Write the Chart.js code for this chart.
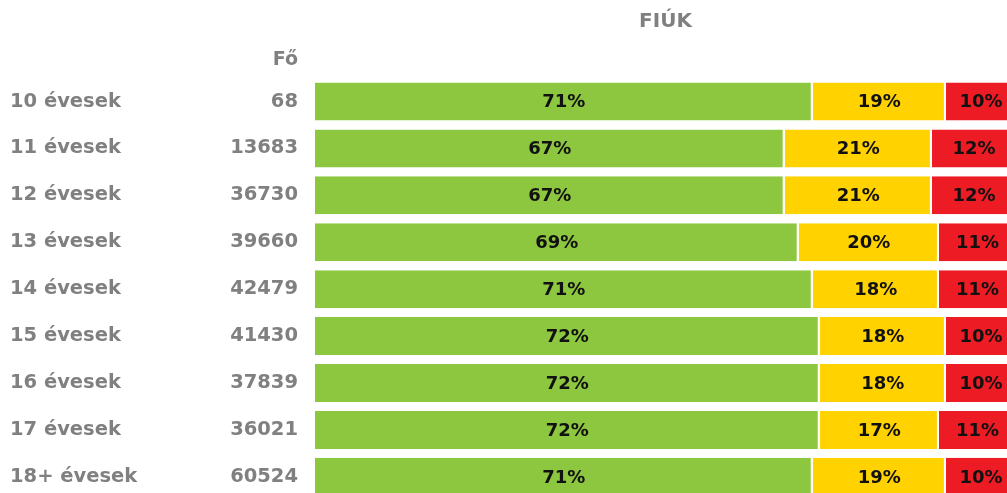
<!DOCTYPE html>
<html>
<head>
<meta charset="utf-8">
<script src="https://cdn.jsdelivr.net/npm/chart.js@4.4.1/dist/chart.umd.min.js"></script>
<style>
  html, body { margin: 0; padding: 0; background: #fff; overflow: hidden; }
</style>
</head>
<body>
<canvas id="fiukChart" width="1016" height="529"></canvas>
<script>
// data
const ages = ['10 évesek', '11 évesek', '12 évesek', '13 évesek', '14 évesek', '15 évesek', '16 évesek', '17 évesek', '18+ évesek'];
const counts = ['68', '13683', '36730', '39660', '42479', '41430', '37839', '36021', '60524'];
const good = [71, 67, 67, 69, 71, 72, 72, 72, 71];
const mid = [19, 21, 21, 20, 18, 18, 18, 17, 19];
const bad = [10, 12, 12, 11, 11, 10, 10, 11, 10];

const greyText = '#808080';
const fontFam = '"DejaVu Sans", sans-serif';

// header texts + percent labels inside the bars
const extras = {
    id: 'extras',
    afterDatasetsDraw(chart) {
        const ctx = chart.ctx;
        ctx.save();
        ctx.font = 'bold 18px ' + fontFam;
        ctx.fillStyle = '#111';
        ctx.textAlign = 'center';
        ctx.textBaseline = 'middle';
        chart.data.datasets.forEach(function(ds, i) {
            chart.getDatasetMeta(i).data.forEach(function(bar, j) {
                ctx.fillText(ds.data[j] + '%', (bar.x + bar.base) / 2, bar.y + 1);
            });
        });
        ctx.fillStyle = greyText;
        ctx.font = 'bold 20px ' + fontFam;
        ctx.fillText('FIÚK', (chart.chartArea.left + chart.chartArea.right) / 2, 22);
        ctx.font = 'bold 19px ' + fontFam;
        ctx.textAlign = 'right';
        ctx.fillText('Fő', 298, 60);
        ctx.restore();
    }
};

new Chart(document.getElementById('fiukChart').getContext('2d'), {
    type: 'bar',
    data: {
        labels: ages,
        datasets: [
            { data: good, backgroundColor: '#8dc63f' },
            { data: mid, backgroundColor: '#ffd200' },
            { data: bad, backgroundColor: '#ed1c24' }
        ]
    },
    options: {
        indexAxis: 'y',
        responsive: false,
        animation: false,
        datasets: {
            bar: {
                barPercentage: 0.81,
                categoryPercentage: 1,
                borderWidth: { left: 0, top: 0, bottom: 0, right: 2 },
                borderColor: '#ffffff',
                borderSkipped: false
            }
        },
        layout: { padding: { left: 10, top: 78, bottom: 0, right: 0 } },
        plugins: {
            legend: { display: false },
            tooltip: { enabled: false }
        },
        scales: {
            x: { stacked: true, min: 0, max: 100, display: false },
            y: {
                stacked: true,
                position: 'left',
                weight: 1,
                grid: { display: false, drawTicks: false },
                border: { display: false },
                ticks: { crossAlign: 'far', padding: 0, color: greyText, font: { family: fontFam, size: 19.5, weight: 'bold' } },
                afterFit(scale) { scale.width = 190; }
            },
            cnt: {
                type: 'category',
                labels: counts,
                position: 'left',
                weight: 0,
                offset: true,
                grid: { display: false, drawTicks: false },
                border: { display: false },
                ticks: { padding: 17, color: greyText, font: { family: fontFam, size: 19.5, weight: 'bold' } },
                afterFit(scale) { scale.width = 115; }
            }
        }
    },
    plugins: [extras]
});
</script>
</body>
</html>
